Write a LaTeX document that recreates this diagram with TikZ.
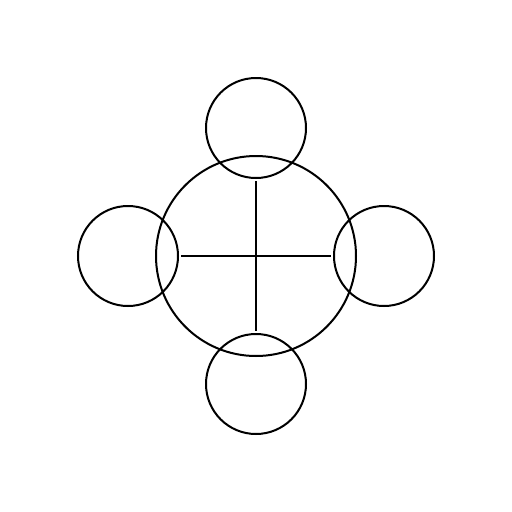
\documentclass[tikz,border=0pt]{standalone}
\begin{document}
\begin{tikzpicture}[x=1pt,y=-1pt,
  ring/.style={draw=black,line width=2pt,circle,inner sep=0pt,outer sep=0pt},
  bigring/.style={ring,minimum size=200pt},
  smallring/.style={ring,minimum size=100pt},
  bar/.style={draw=black,line width=2pt}]
\useasboundingbox[fill=white] (0,0) rectangle (512,512);
\node[bigring] (c) at (256,256) {};
\node[smallring] (t) at (256,128) {};
\node[smallring] (r) at (384,256) {};
\node[smallring] (b) at (256,384) {};
\node[smallring] (l) at (128,256) {};
\coordinate (vt) at (256,181);
\coordinate (vb) at (256,331);
\coordinate (hl) at (181,256);
\coordinate (hr) at (331,256);
\draw[bar] (vt) -- (vb);
\draw[bar] (hl) -- (hr);
\end{tikzpicture}
\end{document}
